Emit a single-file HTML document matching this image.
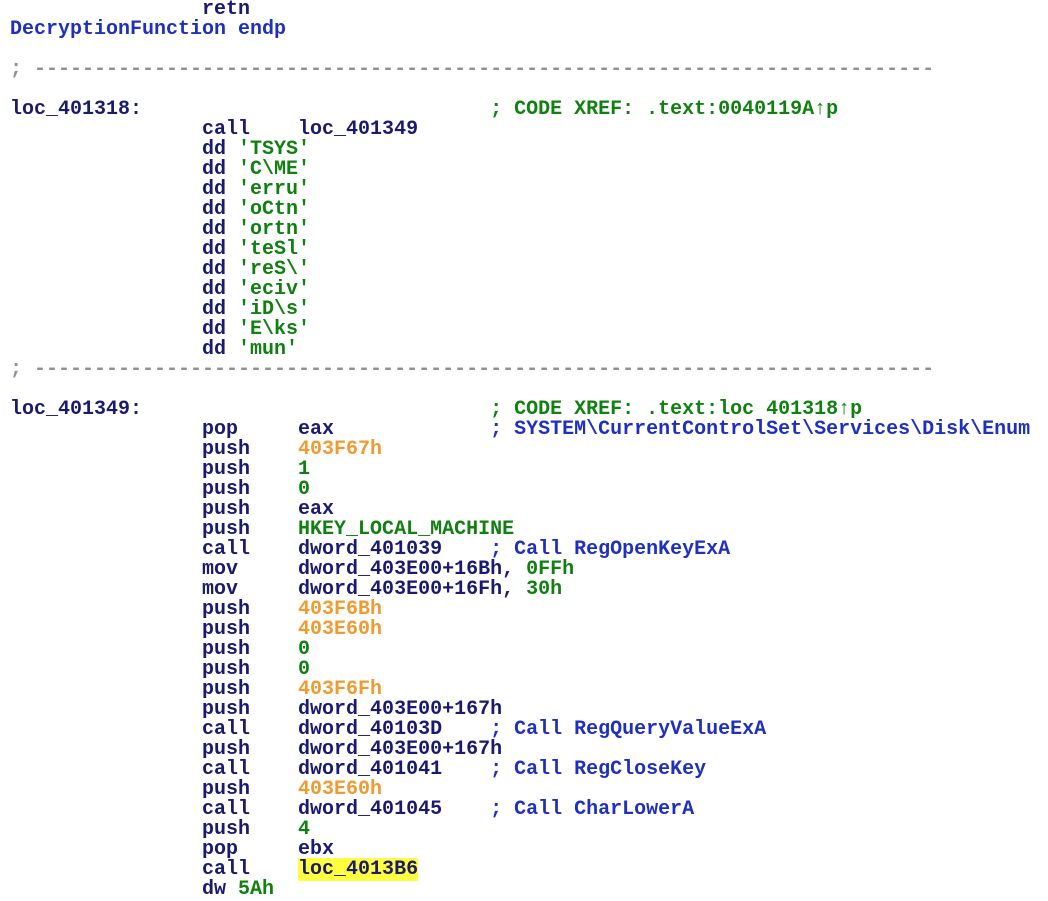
<!DOCTYPE html>
<html><head><meta charset="utf-8"><style>
html,body{margin:0;padding:0;background:#fff;width:1048px;height:882px;overflow:hidden}
pre{margin:0;position:absolute;left:10px;top:0px;font-family:"Liberation Mono",monospace;font-weight:bold;font-size:20px;line-height:20px;color:#1a1a70;letter-spacing:0}
.b{color:#1f2fc0}.g{color:#108010}.o{color:#f09a30}.s{color:#909090}.h{background:#ffff40}
</style></head><body><pre>                retn
<span class="b">DecryptionFunction endp</span>

<span class="s">; ---------------------------------------------------------------------------</span>

loc_401318:                             <span class="g">; CODE XREF: .text:0040119A↑p</span>
                call    loc_401349
                dd <span class="g">'TSYS'</span>
                dd <span class="g">'C\ME'</span>
                dd <span class="g">'erru'</span>
                dd <span class="g">'oCtn'</span>
                dd <span class="g">'ortn'</span>
                dd <span class="g">'teSl'</span>
                dd <span class="g">'reS\'</span>
                dd <span class="g">'eciv'</span>
                dd <span class="g">'iD\s'</span>
                dd <span class="g">'E\ks'</span>
                dd <span class="g">'mun'</span>
<span class="s">; ---------------------------------------------------------------------------</span>

loc_401349:                             <span class="g">; CODE XREF: .text:loc 401318↑p</span>
                pop     eax             <span class="b">; SYSTEM\CurrentControlSet\Services\Disk\Enum</span>
                push    <span class="o">403F67h</span>
                push    <span class="g">1</span>
                push    <span class="g">0</span>
                push    eax
                push    <span class="g">HKEY_LOCAL_MACHINE</span>
                call    dword_401039    <span class="b">; Call RegOpenKeyExA</span>
                mov     dword_403E00+16Bh, <span class="g">0FFh</span>
                mov     dword_403E00+16Fh, <span class="g">30h</span>
                push    <span class="o">403F6Bh</span>
                push    <span class="o">403E60h</span>
                push    <span class="g">0</span>
                push    <span class="g">0</span>
                push    <span class="o">403F6Fh</span>
                push    dword_403E00+167h
                call    dword_40103D    <span class="b">; Call RegQueryValueExA</span>
                push    dword_403E00+167h
                call    dword_401041    <span class="b">; Call RegCloseKey</span>
                push    <span class="o">403E60h</span>
                call    dword_401045    <span class="b">; Call CharLowerA</span>
                push    <span class="g">4</span>
                pop     ebx
                call    <span class="h">loc_4013B6</span>
                dw <span class="g">5Ah</span>
</pre></body></html>
